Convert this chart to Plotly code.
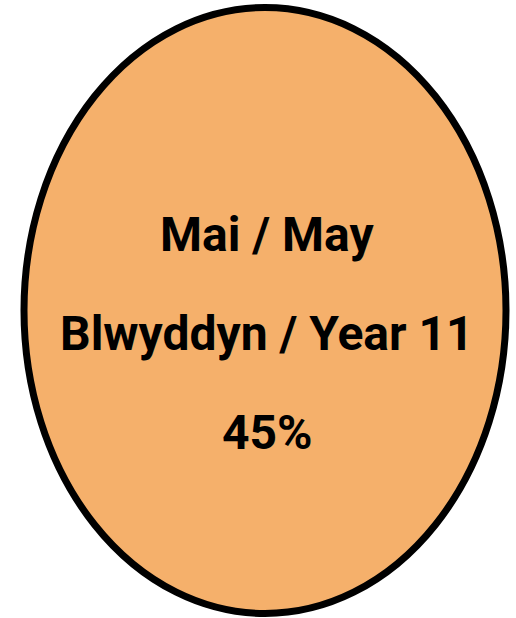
import plotly.graph_objects as go

# what the badge says
month_label = 'Mai / May'
year_label = 'Blwyddyn / Year 11'
percent_value = 45

lines = [month_label, year_label, f'{percent_value}%']

W, H = 516, 618
fill_color = '#F5B06B'

fig = go.Figure()

# the oval
fig.add_shape(
    type='circle',
    xref='x', yref='y',
    x0=24, x1=506, y0=7.5, y1=613.5,
    fillcolor=fill_color,
    line=dict(color='black', width=7),
    layer='below',
)

line_y = [234, 333, 432]
for text, y in zip(lines, line_y):
    fig.add_annotation(
        x=267, y=y, xref='x', yref='y',
        text=f'<b>{text}</b>',
        showarrow=False,
        xanchor='center', yanchor='middle',
        font=dict(family='Roboto', size=48, color='black'),
    )

fig.update_xaxes(range=[0, W], visible=False, fixedrange=True)
fig.update_yaxes(range=[H, 0], visible=False, fixedrange=True)

fig.update_layout(
    width=W, height=H,
    margin=dict(l=0, r=0, t=0, b=0),
    paper_bgcolor='white',
    plot_bgcolor='white',
    showlegend=False,
)

# drop the browser's default page margin so the figure sits at 0,0
fig.write_html(
    'out.html',
    config={'displayModeBar': False},
    post_script="document.body.style.margin='0';",
)
